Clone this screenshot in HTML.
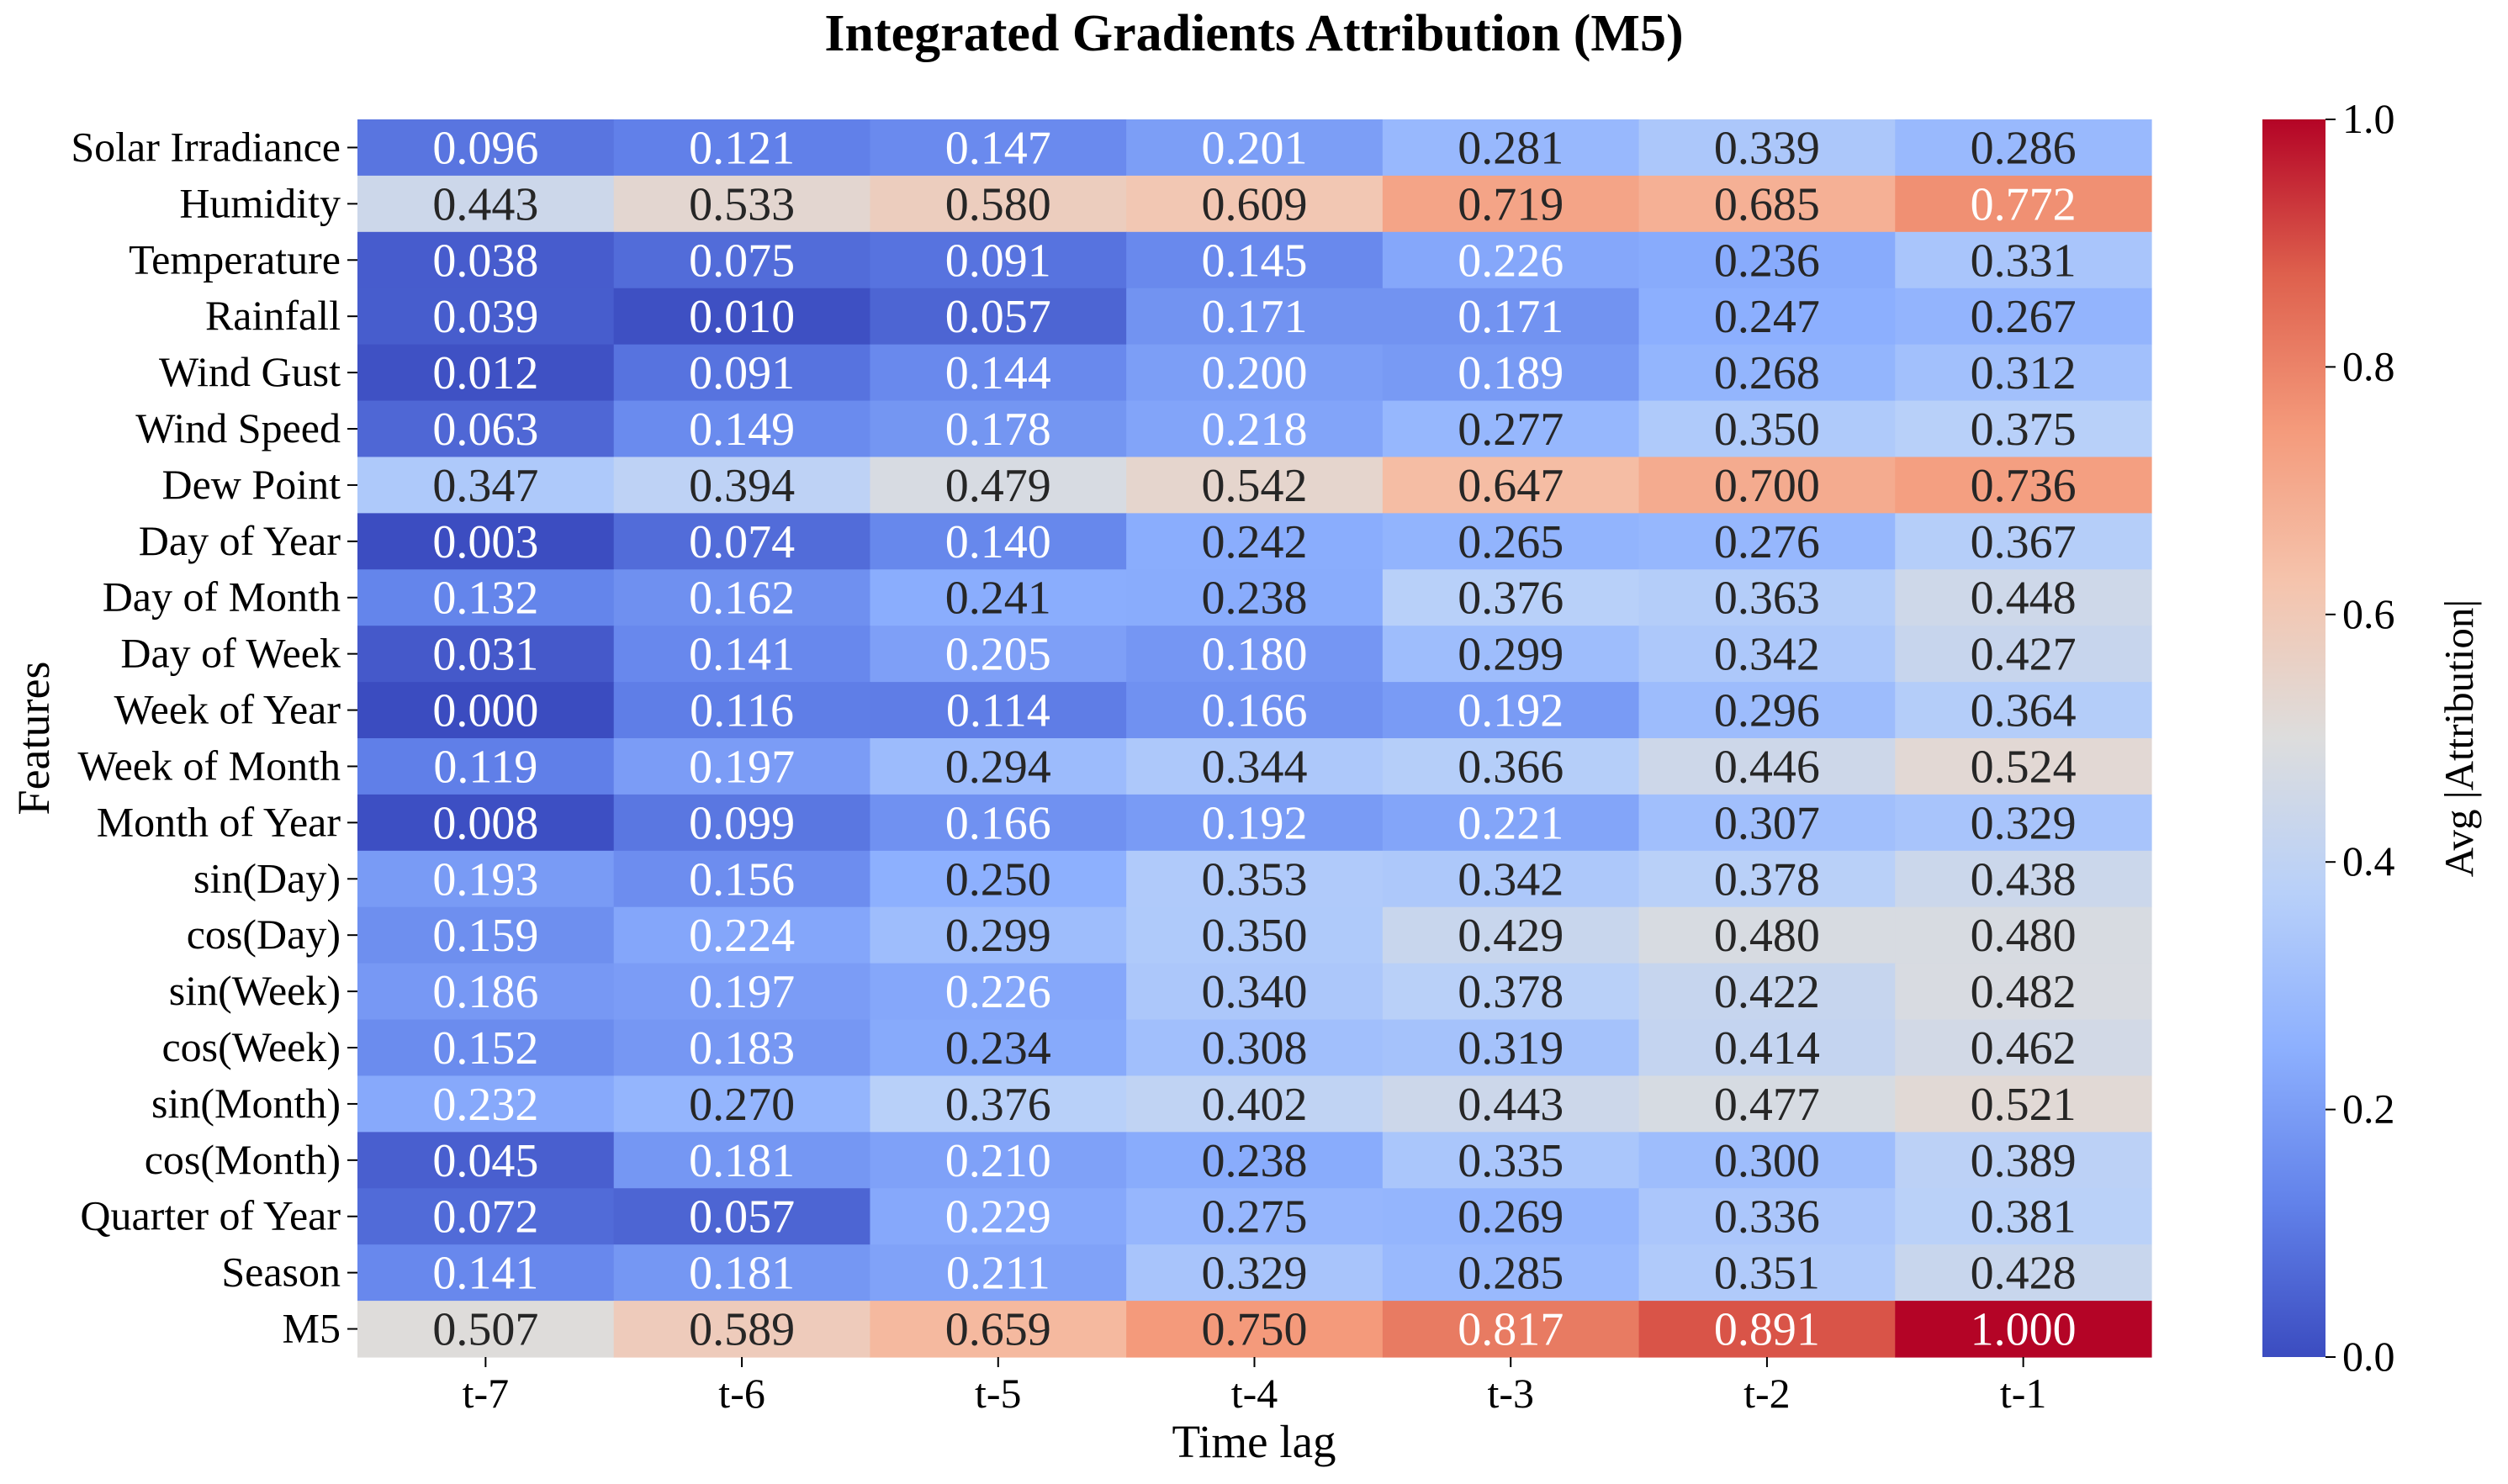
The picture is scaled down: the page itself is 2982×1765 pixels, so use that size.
<!DOCTYPE html>
<html><head><meta charset="utf-8"><style>
body{margin:0;background:#fff}
svg text{font-family:"Liberation Serif",serif}
</style></head><body>
<svg id="chart" width="2982" height="1760" xmlns="http://www.w3.org/2000/svg">
<defs><linearGradient id="cbg" x1="0" y1="1" x2="0" y2="0"></linearGradient></defs>
<text x="1491" y="60" text-anchor="middle" font-size="62" font-weight="bold">Integrated Gradients Attribution (M5)</text>
<g id="cells"></g><g id="ylab"></g><g id="xlab"></g><g id="cbar"></g>
<text x="1491" y="1733" text-anchor="middle" font-size="55">Time lag</text>
<text transform="translate(58,878) rotate(-90)" text-anchor="middle" font-size="54">Features</text>
<text transform="translate(2940,878) rotate(-90)" text-anchor="middle" font-size="49">Avg |Attribution|</text>
</svg>
<script>
const features=["Solar Irradiance","Humidity","Temperature","Rainfall","Wind Gust","Wind Speed","Dew Point","Day of Year","Day of Month","Day of Week","Week of Year","Week of Month","Month of Year","sin(Day)","cos(Day)","sin(Week)","cos(Week)","sin(Month)","cos(Month)","Quarter of Year","Season","M5"];
const lags=["t-7","t-6","t-5","t-4","t-3","t-2","t-1"];
const values=[
[0.096,0.121,0.147,0.201,0.281,0.339,0.286],
[0.443,0.533,0.580,0.609,0.719,0.685,0.772],
[0.038,0.075,0.091,0.145,0.226,0.236,0.331],
[0.039,0.010,0.057,0.171,0.171,0.247,0.267],
[0.012,0.091,0.144,0.200,0.189,0.268,0.312],
[0.063,0.149,0.178,0.218,0.277,0.350,0.375],
[0.347,0.394,0.479,0.542,0.647,0.700,0.736],
[0.003,0.074,0.140,0.242,0.265,0.276,0.367],
[0.132,0.162,0.241,0.238,0.376,0.363,0.448],
[0.031,0.141,0.205,0.180,0.299,0.342,0.427],
[0.000,0.116,0.114,0.166,0.192,0.296,0.364],
[0.119,0.197,0.294,0.344,0.366,0.446,0.524],
[0.008,0.099,0.166,0.192,0.221,0.307,0.329],
[0.193,0.156,0.250,0.353,0.342,0.378,0.438],
[0.159,0.224,0.299,0.350,0.429,0.480,0.480],
[0.186,0.197,0.226,0.340,0.378,0.422,0.482],
[0.152,0.183,0.234,0.308,0.319,0.414,0.462],
[0.232,0.270,0.376,0.402,0.443,0.477,0.521],
[0.045,0.181,0.210,0.238,0.335,0.300,0.389],
[0.072,0.057,0.229,0.275,0.269,0.336,0.381],
[0.141,0.181,0.211,0.329,0.285,0.351,0.428],
[0.507,0.589,0.659,0.750,0.817,0.891,1.000]];
const cbTicks=[0,0.2,0.4,0.6,0.8,1.0];
const L=425,R=2558,T=142,B=1614,CL=2690,CR=2765;
const cw=(R-L)/lags.length, ch=(B-T)/features.length;
const xs=i=>L+i*cw, ys=j=>T+j*ch, cy=v=>B-v*(B-T);
const stops=[[59,76,192],[98,130,234],[141,176,254],[184,208,249],[221,221,221],[245,196,173],[244,154,123],[222,96,77],[180,4,38]];
function cmap(v){v=Math.max(0,Math.min(1,v));const p=v*8,i=Math.min(7,Math.floor(p)),f=p-i;
return stops[i].map((c,k)=>Math.round(c+(stops[i+1][k]-c)*f));}
function lum(c){const a=c.map(x=>{x/=255;return x<=0.03928?x/12.92:Math.pow((x+0.055)/1.055,2.4)});return 0.2126*a[0]+0.7152*a[1]+0.0722*a[2];}
const NS="http://www.w3.org/2000/svg";
function mk(t,a,p){const e=document.createElementNS(NS,t);for(const k in a)e.setAttribute(k,a[k]);p.appendChild(e);return e;}
const cells=document.getElementById('cells');
values.forEach((row,j)=>row.forEach((v,i)=>{
 const c=cmap(v);
 const r=mk('rect',{x:xs(i),y:ys(j),width:cw+0.6,height:ch+0.6,fill:`rgb(${c})`},cells);
 
 
 const t=mk('text',{x:xs(i)+cw/2,y:ys(j)+ch/2+19,'text-anchor':'middle','font-size':56,fill:lum(c)>0.408?'#262626':'#ffffff'},cells);
 
 
 t.textContent=v.toFixed(3);
}));
const yl=document.getElementById('ylab');
features.forEach((f,j)=>{
 const y=ys(j)+ch/2;
 mk('line',{x1:L-12,x2:L,y1:y,y2:y,stroke:'#000','stroke-width':2},yl);
 const t=mk('text',{x:L-20,y:y+16,'text-anchor':'end','font-size':50},yl);
 
 
 t.textContent=f;
});
const xl=document.getElementById('xlab');
lags.forEach((l,i)=>{
 const x=xs(i)+cw/2;
 mk('line',{x1:x,x2:x,y1:B,y2:B+12,stroke:'#000','stroke-width':2},xl);
 const t=mk('text',{x:x,y:B+60,'text-anchor':'middle','font-size':50},xl);
 
 
 t.textContent=l;
});
const g=document.getElementById('cbg');
for(let k=0;k<=8;k++){mk('stop',{offset:k/8,'stop-color':`rgb(${stops[k]})`},g);}
const cb=document.getElementById('cbar');
const cr=mk('rect',{x:CL,y:T,width:CR-CL,height:B-T,fill:'url(#cbg)'},cb);


cbTicks.forEach(v=>{
 const y=cy(v);
 mk('line',{x1:CR,x2:CR+12,y1:y,y2:y,stroke:'#000','stroke-width':2},cb);
 const t=mk('text',{x:CR+20,y:y+16,'font-size':50},cb);
 
 
 t.textContent=v.toFixed(1);
});
</script>
</body></html>
